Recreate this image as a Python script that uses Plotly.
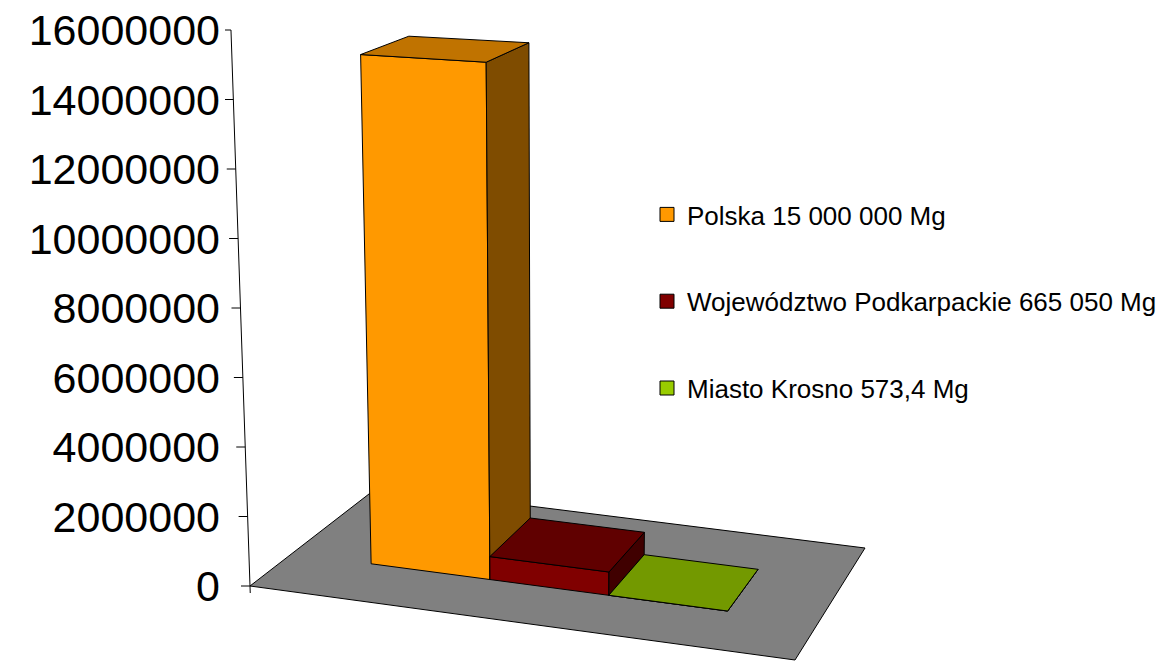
import plotly.graph_objects as go

# ---------------- data ----------------
series_names = [
    "Polska 15 000 000 Mg",
    "Województwo Podkarpackie 665 050 Mg",
    "Miasto Krosno 573,4 Mg",
]
series_values = [15000000, 665050, 573.4]
front_colors = ["#FF9900", "#800000", "#99CC00"]
top_colors = ["#C07300", "#600000", "#739900"]
side_colors = ["#7F4C00", "#400000", "#4C6600"]
tick_values = [0, 2000000, 4000000, 6000000, 8000000,
               10000000, 12000000, 14000000, 16000000]
tick_labels = [str(v) for v in tick_values]
axis_max = 16000000

# ---------------- pseudo-3D view layout (pixels) ----------------
W, H = 1168, 667
ML = 225
Y0_PX, YMAX_PX = 586, 30
VAL_PER_PX = axis_max / (Y0_PX - YMAX_PX)
FL, FR, BR, BL = (250, 586), (795, 660), (865, 548), (378, 487)
S_START, S_WIDTH = 0.15, 0.226
T_FRONT, T_BACK = 0.33, 0.71


def floor_px(s, t):
    fx = (1 - s) * FL[0] + s * FR[0]
    fy = (1 - s) * FL[1] + s * FR[1]
    bx = (1 - s) * BL[0] + s * BR[0]
    by = (1 - s) * BL[1] + s * BR[1]
    return (1 - t) * fx + t * bx, (1 - t) * fy + t * by


def to_val(ypx):
    return (Y0_PX - ypx) * VAL_PER_PX


def point(s, t, v):
    x, y = floor_px(s, t)
    k = 1 + 0.0686 * s - 0.101 * t
    h = v / VAL_PER_PX * k
    lean = -0.0342 + 0.000112 * (x - FL[0])
    return x + lean * h, to_val(y - h)


def poly(pts, fill):
    xs = [p[0] for p in pts] + [pts[0][0]]
    ys = [p[1] for p in pts] + [pts[0][1]]
    return go.Scatter(x=xs, y=ys, mode="lines", fill="toself",
                      fillcolor=fill, line=dict(color="black", width=1),
                      hoverinfo="skip", showlegend=False)


fig = go.Figure()

# floor
fig.add_trace(poly([point(0, 0, 0), point(1, 0, 0), point(1, 1, 0), point(0, 1, 0)], "#808080"))

# bars
for i, v in enumerate(series_values):
    sa = S_START + i * S_WIDTH
    sb = sa + S_WIDTH
    front = [point(sa, T_FRONT, 0), point(sb, T_FRONT, 0), point(sb, T_FRONT, v), point(sa, T_FRONT, v)]
    top = [point(sa, T_FRONT, v), point(sb, T_FRONT, v), point(sb, T_BACK, v), point(sa, T_BACK, v)]
    side = [point(sb, T_FRONT, 0), point(sb, T_BACK, 0), point(sb, T_BACK, v), point(sb, T_FRONT, v)]
    fig.add_trace(poly(front, front_colors[i]))
    fig.add_trace(poly(side, side_colors[i]))
    fig.add_trace(poly(top, top_colors[i]))

# value axis line with tick marks
ax_x, ax_y = [], []
lo = point(0, 0, -7 * VAL_PER_PX)
hi = point(0, 0, axis_max)
ax_x += [lo[0], hi[0], None]
ax_y += [lo[1], hi[1], None]
for tv in tick_values:
    px, py = point(0, 0, tv)
    ax_x += [px - 9, px, None]
    ax_y += [py, py, None]
fig.add_trace(go.Scatter(x=ax_x, y=ax_y, mode="lines",
                         line=dict(color="black", width=1),
                         hoverinfo="skip", showlegend=False))

# legend entries
for i, name in enumerate(series_names):
    fig.add_trace(go.Scatter(
        x=[None], y=[None], mode="markers", name=name,
        legendgroup=str(i),
        marker=dict(symbol="square", size=14, color=front_colors[i],
                    line=dict(color="black", width=1))))

fig.update_layout(
    width=W, height=H,
    margin=dict(l=ML, r=0, t=0, b=0),
    paper_bgcolor="white", plot_bgcolor="white",
    font=dict(family="Liberation Sans, Arial, sans-serif", color="black"),
    xaxis=dict(range=[ML, W], visible=False, fixedrange=True),
    yaxis=dict(range=[to_val(H), to_val(0)], tickvals=tick_values,
               ticktext=tick_labels, showgrid=False, zeroline=False,
               showline=False, ticks="", ticklabelstandoff=4,
               tickfont=dict(size=43, color="black"), fixedrange=True),
    legend=dict(x=(647 - ML) / (W - ML), y=1 - 191 / H,
                xanchor="left", yanchor="top",
                font=dict(size=26, color="black"),
                tracegroupgap=50, bgcolor="rgba(0,0,0,0)"),
    showlegend=True,
)

fig.write_html("out.html")
